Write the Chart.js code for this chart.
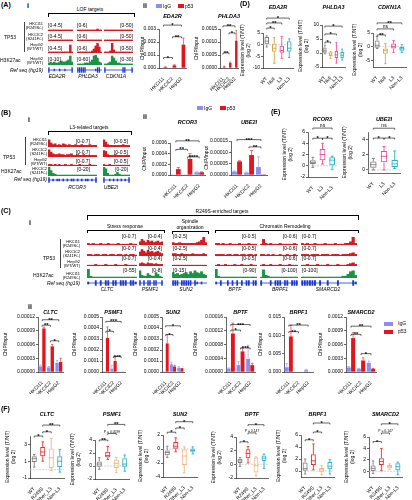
<!DOCTYPE html>
<html lang="en">
<head>
<meta charset="UTF-8">
<title>TP53 ChIP and expression</title>
<style>
  body { margin: 0; background: #fff; }
  #fig { position: relative; width: 412px; height: 500px; overflow: hidden;
         font-family: 'Liberation Sans', Arial, sans-serif; color: #000; }
  #fig canvas { position: absolute; }
  .t { position: absolute; white-space: nowrap; font-size: 5px; line-height: 5px; }
  .pl { font-weight: bold; font-size: 7px; line-height: 7px; }
  .rl { font-size: 4px; line-height: 4.4px; text-align: right; }
  .g { font-style: italic; }
  .br { position: absolute; border: 0.6px solid #000; border-bottom: none; }
  .vl { position: absolute; border-left: 0.7px solid #444; }
  .sq { position: absolute; width: 6px; height: 4px; }
</style>
</head>
<body>
<div id="fig"></div>

<script src="https://cdn.jsdelivr.net/npm/chart.js"></script>
<script>
// ---------- data ----------
const cells = ['HKCI11', 'HKCIC2', 'HepG2'];

// A-ii ChIP-qPCR
const eda2rIgG = [0.00002, 0.00002, 0.00003];
const eda2rP53 = [0.00007, 0.0002, 0.0018];
const eda2rIgGErr = [0, 0, 0];
const eda2rP53Err = [0.00002, 0.00005, 0.0005];
const eda2rTicks = [0, 0.001, 0.002, 0.003];
const eda2rSig = [[0, 1, 0.0008, '*'], [1, 2, 0.0024, '**'], [0, 2, 0.0033, '*']];

const phlda3IgG = [0.00001, 0.00001, 0.00001];
const phlda3P53 = [0.00005, 0.0002, 0.00105];
const phlda3IgGErr = [0, 0, 0];
const phlda3P53Err = [0.00002, 0.00003, 0.0004];
const phlda3Ticks = [0, 0.0005, 0.001, 0.0015];
const phlda3Sig = [[0, 1, 0.00058, '**'], [1, 2, 0.00135, '*'], [0, 2, 0.00162, '**']];

// B-ii
const rcor3IgG = [0.00001, 0.00001, 0.00005];
const rcor3P53 = [0.00011, 0.0003, 0.00005];
const rcor3IgGErr = [0, 0, 0.00001];
const rcor3P53Err = [0.00003, 0.0001, 0.00001];
const rcor3Ticks = [0, 0.0002, 0.0004, 0.0006];
const rcor3Sig = [[1, 2, 0.00034, '****'], [0, 1, 0.00048, '**'], [0, 2, 0.00064, '**']];

const ube2iIgG = [0.000015, 0.00001, 0.000035];
const ube2iP53 = [0.00006, 0.000088, 0.000003];
const ube2iIgGErr = [0.000003, 0.000003, 0.000045];
const ube2iP53Err = [0.000003, 0.00002, 0];
const ube2iTicks = [0, 0.00005, 0.0001, 0.00015];
const ube2iSig = [[1, 2, 0.000124, '**'], [0, 2, 0.000156, '***']];

// C-ii
const cltcIgG = [0.000012, 0.00001, 0.00002];
const cltcP53 = [0.000095, 0.000056, 0.000022];
const cltcIgGErr = [0.000003, 0.000002, 0.000005];
const cltcP53Err = [0.000003, 0.000004, 0.000008];
const cltcTicks = [0, 0.00003, 0.00006, 0.00009, 0.00012];
const cltcSig = [[0, 1, 0.000102, '**'], [1, 2, 0.000068, '*'], [0, 2, 0.000114, '**']];

const psmf1IgG = [0.000005, 0.00003, 0.000004];
const psmf1P53 = [0.00031, 0.0001, 0.000004];
const psmf1IgGErr = [0, 0.00003, 0];
const psmf1P53Err = [0.0001, 0.00003, 0];
const psmf1Ticks = [0, 0.0001, 0.0002, 0.0003, 0.0004, 0.0005];
const psmf1Sig = [[0, 1, 0.00037, '*'], [1, 2, 0.00014, '***'], [0, 2, 0.00046, '***']];

const sun2IgG = [0.000005, 0.00007, 0.00004];
const sun2P53 = [0.00026, 0.00005, 0.000035];
const sun2IgGErr = [0, 0.00002, 0.00001];
const sun2P53Err = [0.00008, 0.00001, 0];
const sun2Ticks = [0, 0.0001, 0.0002, 0.0003, 0.0004, 0.0005];
const sun2Sig = [[0, 1, 0.00034, '*'], [0, 2, 0.00042, '*']];

const bptfIgG = [0.00001, 0.00002, 0.000038];
const bptfP53 = [0.000112, 0.00006, 0.00002];
const bptfIgGErr = [0.000002, 0.00001, 0.00004];
const bptfP53Err = [0.00003, 0.00001, 0.000005];
const bptfTicks = [0, 0.00004, 0.00008, 0.00012, 0.00016];
const bptfSig = [[0, 1, 0.000122, '*'], [0, 2, 0.000138, '***'], [1, 2, 0.00007, '***']];

const brpf1IgG = [0.0013, 0.0001, 0.0005];
const brpf1P53 = [0.0097, 0.0001, 0.0001];
const brpf1IgGErr = [0.001, 0, 0.0002];
const brpf1P53Err = [0.003, 0, 0];
const brpf1Ticks = [0, 0.005, 0.01, 0.015];
const brpf1Sig = [[0, 1, 0.011, '**'], [0, 2, 0.0128, '**']];

const smarcd2IgG = [0.0001, 0.00007, 0.0002];
const smarcd2P53 = [0.00074, 0.00025, 0.00007];
const smarcd2IgGErr = [0.00002, 0.00001, 0.00004];
const smarcd2P53Err = [0.00012, 0.00006, 0.00001];
const smarcd2Ticks = [0, 0.0003, 0.0006, 0.0009, 0.0012];
const smarcd2Sig = [[0, 1, 0.00082, '**'], [0, 2, 0.001, '**'], [1, 2, 0.0004, '*']];

// D, E, F boxes: [min, q1, median, q3, max] per group
const grpD = ['WT', 'Null', 'L3', 'Non-L3'];
const dEDA2R = [[-1, 0, 1.5, 3.3, 3.8], [-8, -3, -1.5, 0.5, 3], [-6, -3.5, -2.5, -0.5, 3.6], [-5.5, -3, -1.5, 1.5, 2.5]];
const dEDA2RSig = [[0, 1, 7.1, '*'], [0, 2, 9.3, '**'], [0, 3, 11.4, '*']];
const dEDA2RTicks = [-10, -5, 0, 5];
const dPHLDA3 = [[-0.3, 0.1, 0.8, 2, 2.8], [-2, -1.2, -0.8, 0.3, 0.5], [-3.6, -1.8, -0.7, 0.7, 3.8], [-2.5, -1.8, -0.8, 0.4, 1.4]];
const dPHLDA3Sig = [[0, 1, 3.9, '*'], [0, 2, 6.8, '*'], [0, 3, 9.6, '*']];
const dPHLDA3Ticks = [-5, 0, 5, 10];
const dCDKN1A = [[-0.7, -0.4, 0.5, 2.2, 3.7], [-6.3, -2.6, -1.5, -0.7, 1.1], [-2.2, -0.7, 0, 1.1, 2.2], [-2.2, -1.5, -0.8, 0, 0.7]];
const dCDKN1ASig = [[0, 1, 4.3, '**'], [0, 2, 6.5, 'ns'], [0, 3, 8.7, '**']];
const dCDKN1ATicks = [-5, 0, 5];

const grpE = ['WT', 'L3', 'Non-L3'];
const eRCOR3 = [[-0.3, 0.3, 0.6, 1.0, 1.5], [0.3, 1.0, 2.0, 3.0, 4.0], [-0.7, 0.1, 1.0, 1.5, 1.7]];
const eRCOR3Sig = [[0, 1, 4.9, '*'], [1, 2, 4.9, '*'], [0, 2, 6.7, 'ns']];
const eRCOR3Ticks = [-2, 0, 2, 4, 6];
const eUBE2I = [[0, 0.3, 0.7, 1.1, 1.5], [0, 1.0, 1.8, 2.5, 3.1], [0.2, 0.4, 0.8, 1.3, 2.5]];
const eUBE2ISig = [[0, 1, 4.2, '*'], [1, 2, 4.2, '*'], [0, 2, 5.5, 'ns']];
const eUBE2ITicks = [0, 1, 2, 3, 4, 5];

const grpF = ['WT', 'R249S', 'Other_L3', 'Non-L3'];
const fCLTC = [[0.3, 0.9, 1.3, 1.6, 1.8], [1.0, 1.6, 2.1, 2.7, 3.3], [-0.1, 0.2, 1.4, 2.5, 3.7], [-0.3, 0.3, 1.0, 1.6, 2.4]];
const fCLTCSig = [[0, 1, 4.0, '*'], [1, 2, 4.5, '*'], [1, 3, 5.3, '**']];
const fCLTCTicks = [-1, 0, 1, 2, 3, 4];
const fPSMF1 = [[-0.5, -0.1, 0.3, 0.7, 1.3], [1.0, 1.3, 1.6, 2.2, 3.0], [-1.0, -0.3, 0.4, 1.0, 1.3], [-0.8, -0.1, 0.3, 1.2, 1.7]];
const fPSMF1Sig = [[0, 1, 4.0, '**'], [1, 2, 5.0, 'P = 0.0599'], [1, 3, 6.4, '**']];
const fPSMF1Ticks = [-2, 0, 2, 4];
const fSUN2 = [[-1.2, -0.9, -0.5, -0.2, 0.4], [-0.4, 0.0, 0.4, 1.0, 1.6], [-3.4, -2.3, -1.0, 0.0, 0.3], [-0.7, -0.4, -0.2, 0.0, 0.3]];
const fSUN2Sig = [[0, 1, 2.4, '*'], [1, 2, 3.0, '*'], [1, 3, 3.9, '*']];
const fSUN2Ticks = [-4, -2, 0, 2];
const fBPTF = [[-0.3, 0.2, 0.5, 0.8, 1.0], [0.2, 0.9, 1.6, 2.2, 2.6], [-1.7, -1.2, -0.2, 1.0, 1.1], [-0.6, 0.5, 0.9, 1.3, 1.5]];
const fBPTFSig = [[0, 1, 3.3, '*'], [1, 2, 4.6, 'P = 0.147'], [1, 3, 5.8, '*']];
const fBPTFTicks = [-2, 0, 2, 4];
const fBRPF1 = [[-0.5, 0.0, 0.4, 1.4, 2.0], [0.2, 1.0, 1.7, 2.8, 4.5], [-0.6, -0.2, 0.2, 0.5, 0.9], [-0.5, 0.3, 0.8, 1.5, 1.9]];
const fBRPF1Sig = [[0, 1, 5.2, '*'], [1, 2, 6.5, '*'], [1, 3, 8.0, '*']];
const fBRPF1Ticks = [0, 2, 4, 6];
const fSMARCD2 = [[-0.4, 0.0, 0.5, 1.0, 1.8], [0.1, 1.1, 1.7, 2.3, 4.0], [0.3, 0.5, 0.8, 1.1, 1.3], [-0.6, 0.2, 0.8, 1.4, 1.6]];
const fSMARCD2Sig = [[0, 1, 5.2, '*'], [1, 2, 6.7, 'P = 0.147'], [1, 3, 8.3, '*']];
const fSMARCD2Ticks = [0, 2, 4, 6];

// genome browser tracks, signal as fraction of the track range (0-10)
const trkA_HKCI11 = [[1,1,1,1,1,1,1,1,1,1,1,1,1,1], [1,1,1,1,1,1,1,1,1,1,1,2,1,1], [1,1,1,1,1,1,1,1,1,1,1,1,1,1,1,1]];
const trkA_HKCIC2 = [[1,1,1,1,1,1,1,1,1,1,1,1,1,1], [1,1,1,1,1,1,1,1,1,1,1,1,1,1], [1,1,1,1,1,1,1,1,1,1,1,1,1,1,1,1]];
const trkA_HepG2 = [[1,1,1,1,1,1,1,1,1,1,1,1,8,1], [1,1,1,1,1,1,1,1,2,4,7,10,6,1], [1,1,1,2,10,3,1,1,1,1,1,1,1,1,1,1]];
const trkA_K27 = [[2,3,2,3,2,2,3,4,3,3,4,5,9,3], [1,1,1,1,2,2,2,3,5,9,10,7,3,2], [1,1,2,3,9,7,4,2,2,1,1,1,1,1,1,1]];
const refA = [[2,0,0,1,0,0,1,0,0,1,0,0,0,2], [2,2,2,2,2,0,0,0,0,0,1,2,2,0], [2,0,0,0,0,0,0,0,0,0,2,2,0,0,0,2]];

const trkB_HKCI11 = [[9,5,3,4,2,3,2,4,3,2,3,2,2,3,2,2,3,2,2,2,3,2,2,2], [9,6,3,2,2,2,2,2,2,2,3,2,2,2]];
const trkB_HKCIC2 = [[9,6,4,3,3,4,3,3,2,3,3,4,2,2,3,2,2,3,2,2,2,2,2,2], [8,7,3,2,2,2,3,2,2,2,2,2,2,2]];
const trkB_HepG2 = [[2,2,1,2,1,2,1,1,2,1,1,2,1,1,1,2,1,1,1,1,2,1,1,1], [2,1,1,2,1,1,1,1,1,1,1,1,1,1]];
const trkB_K27 = [[10,6,3,2,1,1,1,1,1,1,1,1,1,1,1,1,1,1,1,1,1,1,1,1], [10,8,3,1,1,1,2,4,2,1,1,1,1,1]];
const refB = [[2,0,1,0,1,1,0,1,0,1,0,1,1,0,1,0,1,0,1,1,0,1,0,2], [2,0,0,1,0,1,0,1,0,1,0,1,0,2]];

const trkC_HKCI11 = [
  [2,1,2,1,1,2,1,1,2,1,1,1,2,1,1,1,1,2,1,1], [4,7,5,3,6,4,5,3,4,5,3,4],
  [3,2,2,3,2,2,2,2,2,2,2,3,4,6,10,3], [2,2,1,2,1,1,2,1,1,1,2,1,1,1,2,1,1,1],
  [1,7,2,1,2,1,1,1,2,1,1,1,1,1,2,1], [2,1,2,1,1,2,1,1,1,2,1,1,1,2,1,1,1,2,2,4,10,2]];
const trkC_HKCIC2 = [
  [2,2,1,2,2,1,2,2,1,2,2,1,2,2,1,2,1,2,2,1], [5,8,6,4,7,5,6,4,5,6,4,3],
  [3,3,2,2,3,2,2,2,2,3,2,2,2,2,3,2], [2,2,2,2,1,2,2,1,2,2,1,2,2,1,2,2,1,2],
  [2,2,1,2,1,2,1,1,2,1,1,2,1,1,2,1], [2,2,2,1,2,2,2,1,2,2,2,1,2,2,2,1,2,2,2,3,4,2]];
const trkC_HepG2 = [
  [1,1,1,2,1,1,1,2,1,1,1,2,1,1,1,2,1,1,1,1], [3,4,3,2,4,3,3,2,3,2,2,2],
  [1,1,1,1,1,1,1,1,1,1,1,1,1,1,1,1], [1,2,1,1,2,1,1,1,2,1,1,2,1,1,1,2,1,1],
  [1,2,1,1,2,1,1,1,2,1,1,1,2,1,1,1], [1,1,2,1,1,1,2,1,1,1,2,1,1,1,2,1,1,1,2,3,4,2]];
const trkC_K27 = [
  [10,2,1,1,1,1,1,1,1,1,1,1,1,1,1,1,1,1,1,1], [8,3,2,2,5,3,2,2,6,4,2,1],
  [6,4,5,3,4,5,6,4,7,5,8,6,5,7,4,3], [10,2,1,1,1,1,1,1,1,1,1,1,1,1,1,1,1,1],
  [1,9,3,2,1,1,1,1,1,1,1,1,1,1,1,1], [1,1,1,1,1,1,1,1,1,1,1,1,1,1,1,1,2,2,4,7,8,3]];
const refC = [
  [1,0,0,2,0,2,0,2,2,0,2,2,0,2,2,2,0,2,2,1], [2,0,2,0,2,2,0,2,2,0,0,2],
  [2,2,2,0,2,2,2,2,2,0,2,1,0,1,0,0], [1,0,2,0,0,2,0,2,0,2,0,2,0,2,2,0,2,2],
  [2,0,0,0,2,0,2,2,2,0,2,2,0,2,2,2], [2,2,2,2,2,2,0,2,0,0,2,0,0,0,2,0,0,0,0,0,2,1]];

const genesA = ['EDA2R', 'PHLDA3', 'CDKN1A'];
const rangesA = [['[0-4.5]', '[0-6]', '[0-50]'], ['[0-4.5]', '[0-6]', '[0-50]'], ['[0-4.5]', '[0-6]', '[0-50]'], ['[0-10]', '[0-60]', '[0-30]']];
const genesB = ['RCOR3', 'UBE2I'];
const rangesB = [['[0-0.7]', '[0-0.5]'], ['[0-0.7]', '[0-0.5]'], ['[0-0.7]', '[0-0.5]'], ['[0-20]', '[0-20]']];
const genesC = ['CLTC', 'PSMF1', 'SUN2', 'BPTF', 'BRPF1', 'SMARCD2'];
const rangesC = [
  ['[0-0.7]', '[0-0.4]', '[0-2.5]', '[0-0.5]', '[0-0.6]', '[0-0.7]'],
  ['[0-0.7]', '[0-0.4]', '[0-2.5]', '[0-0.5]', '[0-0.6]', '[0-0.7]'],
  ['[0-0.7]', '[0-0.4]', '[0-2.5]', '[0-0.5]', '[0-0.6]', '[0-0.7]'],
  ['[0-55]', '[0-8]', '[0-15]', '[0-90]', '[0-100]', '[0-100]']];

// ---------- styling ----------
const BLUE = '#8a8ef0', RED = '#e4141c';
const GREY = '#808080', GOLD = '#d9a540', PINK = '#ee4c97', TEAL = '#29b2c8', PEACH = '#f6b47d', RED2 = '#ee2c2c';
const TRK_RED = '#d71920', TRK_GREEN = '#1b9443', GENE = '#1c37d8';
const FONT = "'Liberation Sans', Arial, sans-serif";

Chart.defaults.font.family = FONT;
Chart.defaults.font.size = 5;
Chart.defaults.color = '#000';
Chart.defaults.animation = false;
Chart.defaults.responsive = false;
Chart.defaults.devicePixelRatio = 1;
Chart.defaults.events = [];
Chart.defaults.plugins.legend.display = false;
Chart.defaults.plugins.tooltip.enabled = false;

const fig = document.getElementById('fig');

function cv(x, y, w, h) {
  const c = document.createElement('canvas');
  c.width = w; c.height = h;
  c.style.left = x + 'px'; c.style.top = y + 'px';
  fig.appendChild(c);
  return c;
}

function txt(x, y, s, cls, align) {
  const d = document.createElement('div');
  d.className = 't ' + (cls || '');
  d.innerHTML = s;
  d.style.top = y + 'px';
  if (align === 'r') { d.style.right = (412 - x) + 'px'; d.style.textAlign = 'right'; }
  else d.style.left = x + 'px';
  if (align === 'c') d.style.transform = 'translateX(-50%)';
  fig.appendChild(d);
}

function brk(x0, x1, y, h) {
  const d = document.createElement('div');
  d.className = 'br';
  d.style.cssText += `left:${x0}px;top:${y}px;width:${x1 - x0}px;height:${h}px`;
  fig.appendChild(d);
}

function vline(x, y0, y1) {
  const d = document.createElement('div');
  d.className = 'vl';
  d.style.cssText += `left:${x}px;top:${y0}px;height:${y1 - y0}px`;
  fig.appendChild(d);
}

function square(x, y, col, w) {
  const d = document.createElement('div');
  d.className = 'sq';
  d.style.cssText += `left:${x}px;top:${y}px;background:${col}` + (w ? `;width:${w}px` : '');
  fig.appendChild(d);
}

// titles, error bars, whiskers, brackets drawn through the chart's scales
function marks(o) {
  return {
    id: 'marks',
    beforeDatasetsDraw(chart) {
      const { ctx, chartArea: a, scales: { y } } = chart;
      if (o.zero) {
        const py = y.getPixelForValue(0);
        ctx.save(); ctx.strokeStyle = '#c4c4c4'; ctx.lineWidth = 0.7; ctx.setLineDash([2, 1]);
        ctx.beginPath(); ctx.moveTo(a.left, py); ctx.lineTo(a.right, py); ctx.stroke(); ctx.restore();
      }
      if (o.mid) {
        const py = y.getPixelForValue(0);
        ctx.save(); ctx.strokeStyle = o.mid; ctx.lineWidth = 0.8;
        ctx.beginPath(); ctx.moveTo(a.left, py); ctx.lineTo(a.right, py); ctx.stroke(); ctx.restore();
      }
    },
    afterDatasetsDraw(chart) {
      const { ctx, chartArea: a, scales: { x, y } } = chart;
      const seg = (x0, y0, x1, y1) => { ctx.beginPath(); ctx.moveTo(x0, y0); ctx.lineTo(x1, y1); ctx.stroke(); };
      ctx.save();
      ctx.lineWidth = 0.6;
      if (o.err) o.err.forEach((errs, di) => {
        const meta = chart.getDatasetMeta(di), vals = chart.data.datasets[di].data;
        ctx.strokeStyle = chart.data.datasets[di].backgroundColor;
        errs.forEach((e, i) => {
          if (!e) return;
          const el = meta.data[i], y0 = y.getPixelForValue(vals[i]), y1 = y.getPixelForValue(vals[i] + e);
          seg(el.x, y0, el.x, y1);
          seg(el.x - el.width / 3, y1, el.x + el.width / 3, y1);
        });
      });
      if (o.box) {
        const meta = chart.getDatasetMeta(0);
        ctx.lineWidth = 0.9;
        o.box.forEach((b, i) => {
          const el = meta.data[i], cx = el.x, w = el.width, P = v => y.getPixelForValue(v);
          ctx.strokeStyle = o.colors[i];
          seg(cx, P(b[3]), cx, P(b[4]));
          seg(cx, P(b[1]), cx, P(b[0]));
          seg(cx - w / 4, P(b[4]), cx + w / 4, P(b[4]));
          seg(cx - w / 4, P(b[0]), cx + w / 4, P(b[0]));
          seg(cx - w / 2, P(b[2]), cx + w / 2, P(b[2]));
        });
      }
      if (o.sig) {
        ctx.strokeStyle = '#000'; ctx.fillStyle = '#000'; ctx.lineWidth = 0.6;
        ctx.textAlign = 'center'; ctx.textBaseline = 'alphabetic';
        o.sig.forEach(([i, j, v, lab]) => {
          const x0 = x.getPixelForValue(i), x1 = x.getPixelForValue(j), py = y.getPixelForValue(v);
          ctx.beginPath(); ctx.moveTo(x0, py + 1.5); ctx.lineTo(x0, py); ctx.lineTo(x1, py); ctx.lineTo(x1, py + 1.5); ctx.stroke();
          const xm = (x0 + x1) / 2;
          if (lab.startsWith('P')) { ctx.font = '3.4px ' + FONT; ctx.fillText(lab, xm, py - 1); }
          else if (lab === 'ns') { ctx.font = '5px ' + FONT; ctx.fillText(lab, xm, py - 1); }
          else { ctx.font = 'bold 6px ' + FONT; ctx.fillText(lab, xm, py + 2); }
        });
      }
      if (o.title) {
        ctx.font = 'italic bold 5.5px ' + FONT; ctx.fillStyle = '#000';
        ctx.textAlign = 'center'; ctx.textBaseline = 'middle';
        ctx.fillText(o.title, (a.left + a.right) / 2, o.ty);
      }
      ctx.restore();
    }
  };
}

function xAxis(height) {
  return {
    afterFit: ax => { ax.height = height; },
    ticks: { autoSkip: false, maxRotation: 45, minRotation: 45, padding: 0, font: { size: 5 } },
    grid: { display: false },
    border: { color: '#000', width: 0.6 }
  };
}

function yAxis(width, range, ticks, fmt, title) {
  return {
    min: range[0], max: range[1],
    afterBuildTicks: ax => { ax.ticks = ticks.map(v => ({ value: v })); },
    afterFit: ax => { ax.width = width; },
    ticks: { callback: fmt, padding: 1, font: { size: 5 } },
    grid: { display: true, drawOnChartArea: false, tickLength: 2, color: '#000', lineWidth: 0.6 },
    border: { color: '#000', width: 0.6 },
    title: { display: true, text: title, padding: 0, font: { size: 5 } }
  };
}

// g = [x, y, w, h, yAxisWidth, topPad, xAxisHeight, titleY]
function barChart(g, title, igg, p53, iggErr, p53Err, ticks, dec, sig) {
  new Chart(cv(g[0], g[1], g[2], g[3]), {
    type: 'bar',
    data: { labels: cells, datasets: [
      { data: igg, backgroundColor: BLUE },
      { data: p53, backgroundColor: RED }
    ] },
    options: {
      layout: { padding: { top: g[5], right: 3, left: 0, bottom: 0 } },
      datasets: { bar: { categoryPercentage: 0.85, barPercentage: 0.95 } },
      scales: {
        x: xAxis(g[6]),
        y: yAxis(g[4], [ticks[0], ticks[ticks.length - 1]], ticks, v => v.toFixed(dec), 'ChIP/Input')
      }
    },
    plugins: [marks({ title, ty: g[7], err: [iggErr, p53Err], sig })]
  });
}

function boxChart(g, title, groups, colors, stats, range, ticks, sig) {
  new Chart(cv(g[0], g[1], g[2], g[3]), {
    type: 'bar',
    data: { labels: groups, datasets: [{
      data: stats.map(s => [s[1], s[3]]),
      backgroundColor: 'rgba(255,255,255,0)', borderColor: colors, borderWidth: 1, borderSkipped: false
    }] },
    options: {
      layout: { padding: { top: g[5], right: 3, left: 0, bottom: 0 } },
      datasets: { bar: { categoryPercentage: 1, barPercentage: 0.6 } },
      scales: {
        x: xAxis(g[6]),
        y: yAxis(g[4], range, ticks, v => String(v), ['Expression level (T/NT)', '(log 2)'])
      }
    },
    plugins: [marks({ title, ty: g[7], box: stats, colors, sig, zero: true })]
  });
}

function track(x0, x1, base, h, color, vals) {
  new Chart(cv(x0, base - h, x1 - x0, h), {
    type: 'bar',
    data: { labels: vals.map((v, i) => i), datasets: [{ data: vals, backgroundColor: color, categoryPercentage: 1, barPercentage: 1 }] },
    options: { layout: { padding: 0 }, scales: { x: { display: false }, y: { display: false, min: 0, max: 10 } } }
  });
}

function gene(x0, x1, yc, vals) {
  new Chart(cv(x0, yc - 3, x1 - x0, 6), {
    type: 'bar',
    data: { labels: vals.map((v, i) => i), datasets: [{ data: vals.map(v => [-v, v]), backgroundColor: GENE, categoryPercentage: 1, barPercentage: 0.75 }] },
    options: { layout: { padding: 0 }, scales: { x: { display: false }, y: { display: false, min: -2.2, max: 2.2 } } },
    plugins: [marks({ mid: GENE })]
  });
}

function browser(cols, bases, rows, colors, hts, refs, refY) {
  rows.forEach((row, r) => row.forEach((vals, c) =>
    track(cols[c][0], cols[c][1], bases[r], hts[r], colors[r], vals)));
  refs.forEach((vals, c) => gene(cols[c][0], cols[c][1], refY, vals));
}

// ---------- panel A ----------
txt(1, 1, '(A)', 'pl'); txt(27, 2, 'i', 'pl');
txt(90, 7, 'LOF targets', '', 'c'); brk(48, 133, 13, 3);
const colsA = [[48, 73], [77, 102], [104, 133]];
browser(colsA, [31, 41, 53, 65], [trkA_HKCI11, trkA_HKCIC2, trkA_HepG2, trkA_K27],
  [TRK_RED, TRK_RED, TRK_RED, TRK_GREEN], [10, 10, 10, 10], refA, 70);
vline(24, 22, 52);
txt(4, 35, 'TP53'); txt(0, 58, 'H3K27ac');
[['HKCI11<br>(R249S/-)', 22], ['HKCIC2<br>(S241F/-)', 33], ['HepG2<br>(WT/WT)', 43], ['HepG2<br>(WT/WT)', 57]]
  .forEach(([s, y]) => txt(43, y, s, 'rl', 'r'));
[23, 34, 46, 57].forEach((y, r) => {
  txt(48, y, rangesA[r][0]); txt(77, y, rangesA[r][1]); txt(133, y, rangesA[r][2], '', 'r');
});
txt(43, 68, 'Ref seq (hg19)', 'g', 'r');
[57, 88, 116].forEach((x, i) => txt(x, 74, genesA[i], 'g', 'c'));

txt(143, 2, 'ii', 'pl');
square(156, 4, BLUE); txt(163, 4, 'IgG'); square(178, 4, RED); txt(185, 4, 'p53');
barChart([140, 8, 49, 84, 19, 21, 24, 8], 'EDA2R', eda2rIgG, eda2rP53, eda2rIgGErr, eda2rP53Err, eda2rTicks, 3, eda2rSig);
barChart([194, 8, 47, 84, 26, 21, 24, 8], 'PHLDA3', phlda3IgG, phlda3P53, phlda3IgGErr, phlda3P53Err, phlda3Ticks, 4, phlda3Sig);

// ---------- panel D ----------
txt(240, 0, '(D)', 'pl');
const colD = [GREY, GOLD, PINK, TEAL];
boxChart([240, 0, 56, 90, 23, 33, 22, 7], 'EDA2R', grpD, colD, dEDA2R, [-10, 5], dEDA2RTicks, dEDA2RSig);
boxChart([298, 0, 50, 90, 24, 25, 23, 7], 'PHLDA3', grpD, colD, dPHLDA3, [-5, 10], dPHLDA3Ticks, dPHLDA3Sig);
boxChart([352, 0, 57, 90, 21, 33, 23, 7], 'CDKN1A', grpD, colD, dCDKN1A, [-7.5, 5], dCDKN1ATicks, dCDKN1ASig);

// ---------- panel B ----------
txt(1, 109, '(B)', 'pl'); txt(28, 116, 'i', 'pl');
txt(89, 125, 'L3-related targets', '', 'c'); brk(48, 130, 131, 3);
const colsB = [[48, 97], [103, 130]];
browser(colsB, [147, 157, 166, 176], [trkB_HKCI11, trkB_HKCIC2, trkB_HepG2, trkB_K27],
  [TRK_RED, TRK_RED, TRK_RED, TRK_GREEN], [8, 8, 8, 9], refB, 180);
vline(25, 137, 165);
txt(3, 155, 'TP53'); txt(1, 169, 'H3K27ac');
[['HKCI11<br>(R249S/-)', 138], ['HKCIC2<br>(S241F/-)', 148], ['HepG2<br>(WT/WT)', 158], ['HKCIC2<br>(S241F/-)', 167]]
  .forEach(([s, y]) => txt(47, y, s, 'rl', 'r'));
[139, 150, 159, 167].forEach((y, r) => { txt(90, y, rangesB[r][0], '', 'r'); txt(128, y, rangesB[r][1], '', 'r'); });
txt(47, 177, 'Ref seq (hg19)', 'g', 'r');
[77, 111].forEach((x, i) => txt(x, 185, genesB[i], 'g', 'c'));

txt(143, 113, 'ii', 'pl');
square(197, 106, BLUE); txt(204, 106, 'IgG'); square(220, 106, RED); txt(227, 106, 'p53');
barChart([142, 110, 66, 88, 28, 33, 23, 12], 'RCOR3', rcor3IgG, rcor3P53, rcor3IgGErr, rcor3P53Err, rcor3Ticks, 4, rcor3Sig);
barChart([204, 110, 66, 88, 27, 31, 23, 12], 'UBE2I', ube2iIgG, ube2iP53, ube2iIgGErr, ube2iP53Err, ube2iTicks, 5, ube2iSig);

// ---------- panel E ----------
txt(271, 108, '(E)', 'pl');
const colE = [GREY, PINK, TEAL];
boxChart([282, 108, 58, 92, 26, 24, 23, 11], 'RCOR3', grpE, colE, eRCOR3, [-2, 6], eRCOR3Ticks, eRCOR3Sig);
boxChart([342, 108, 61, 90, 26, 24, 25, 11], 'UBE2I', grpE, colE, eUBE2I, [-0.4, 5], eUBE2ITicks, eUBE2ISig);

// ---------- panel C ----------
txt(1, 207, '(C)', 'pl'); txt(29, 219, 'i', 'pl');
txt(222, 209, 'R249S-enriched targets', '', 'c'); brk(87, 357, 215, 4);
txt(125, 224, 'Stress response', '', 'c'); brk(87, 163, 230, 2);
txt(190, 219, 'Spindle', '', 'c'); txt(190, 225, 'organization', '', 'c'); brk(172, 207, 231, 2);
txt(285, 224, 'Chromatin Remodeling', '', 'c'); brk(215, 357, 230, 2);
const colsC = [[87, 137], [139, 163], [172, 207], [215, 257], [260, 298], [301, 357]];
browser(colsC, [245, 256, 266, 278], [trkC_HKCI11, trkC_HKCIC2, trkC_HepG2, trkC_K27],
  [TRK_RED, TRK_RED, TRK_RED, TRK_GREEN], [8, 8, 8, 9], refC, 283);
vline(60, 239, 268);
txt(43, 256, 'TP53'); txt(33, 273, 'H3K27ac');
[['HKCI11<br>(R249S/-)', 240], ['HKCIC2<br>(S241F/-)', 250], ['HepG2<br>(WT/WT)', 260], ['HKCI11<br>(R249S/-)', 272]]
  .forEach(([s, y]) => txt(80, y, s, 'rl', 'r'));
const rangeAlignC = ['r', 'r', 'l', 'r', 'r', 'l'];
[234, 246, 256, 268].forEach((y, r) => colsC.forEach((c, i) => {
  if (rangeAlignC[i] === 'r') txt(c[1] - 1, y, rangesC[r][i], '', 'r'); else txt(c[0] + 1, y, rangesC[r][i]);
}));
txt(80, 281, 'Ref seq (hg19)', 'g', 'r');
[107, 150, 186, 235, 280, 328].forEach((x, i) => txt(x, 287, genesC[i], 'g', 'c'));

txt(28, 303, 'ii', 'pl');
square(384, 322, BLUE, 9); txt(398, 321, 'IgG'); square(384, 330, RED, 9); txt(398, 329, 'p53');
barChart([3, 303, 63, 91, 35, 14, 22, 9], 'CLTC', cltcIgG, cltcP53, cltcIgGErr, cltcP53Err, cltcTicks, 5, cltcSig);
barChart([72, 303, 56, 91, 30, 14, 22, 9], 'PSMF1', psmf1IgG, psmf1P53, psmf1IgGErr, psmf1P53Err, psmf1Ticks, 4, psmf1Sig);
barChart([133, 303, 54, 91, 29, 14, 22, 9], 'SUN2', sun2IgG, sun2P53, sun2IgGErr, sun2P53Err, sun2Ticks, 4, sun2Sig);
barChart([193, 303, 65, 91, 33, 14, 22, 9], 'BPTF', bptfIgG, bptfP53, bptfIgGErr, bptfP53Err, bptfTicks, 5, bptfSig);
barChart([258, 303, 58, 91, 26, 14, 22, 9], 'BRPF1', brpf1IgG, brpf1P53, brpf1IgGErr, brpf1P53Err, brpf1Ticks, 3, brpf1Sig);
barChart([318, 303, 61, 91, 28, 14, 22, 9], 'SMARCD2', smarcd2IgG, smarcd2P53, smarcd2IgGErr, smarcd2P53Err, smarcd2Ticks, 4, smarcd2Sig);

// ---------- panel F ----------
txt(1, 405, '(F)', 'pl');
const colF = [GREY, RED2, PEACH, TEAL];
boxChart([5, 403, 62, 97, 25, 33, 22, 11], 'CLTC', grpF, colF, fCLTC, [-1, 4], fCLTCTicks, fCLTCSig);
boxChart([70, 403, 62, 97, 25, 37, 21, 11], 'PSMF1', grpF, colF, fPSMF1, [-2, 4], fPSMF1Ticks, fPSMF1Sig);
boxChart([138, 403, 62, 97, 25, 32, 23, 11], 'SUN2', grpF, colF, fSUN2, [-4, 2], fSUN2Ticks, fSUN2Sig);
boxChart([211, 403, 60, 97, 25, 34, 22, 11], 'BPTF', grpF, colF, fBPTF, [-2, 4], fBPTFTicks, fBPTFSig);
boxChart([276, 403, 61, 97, 25, 32, 23, 11], 'BRPF1', grpF, colF, fBRPF1, [-1, 6], fBRPF1Ticks, fBRPF1Sig);
boxChart([344, 403, 61, 97, 25, 34, 23, 11], 'SMARCD2', grpF, colF, fSMARCD2, [-1, 6], fSMARCD2Ticks, fSMARCD2Sig);
</script>
</body>
</html>
